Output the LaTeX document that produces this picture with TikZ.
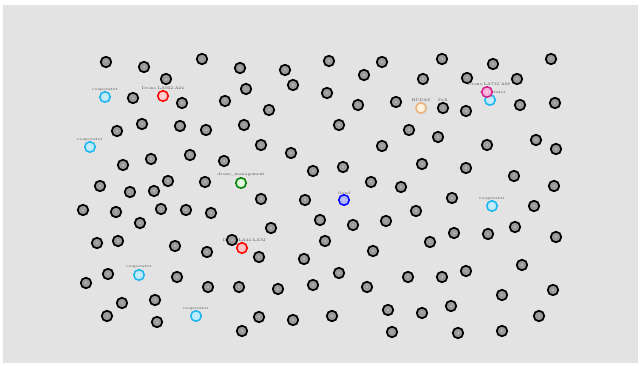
\documentclass[tikz,border=0pt]{standalone}
\begin{document}
\begin{tikzpicture}[x=1pt,y=-1pt,
  dn/.style={circle,draw=black,line width=1.7pt,fill=gray!80,minimum size=10.5pt,inner sep=0pt,
    font=\fontsize{3.5}{4}\selectfont,text=gray!20},
  cn/.style={circle,line width=1.5pt,minimum size=10.5pt,inner sep=0pt,font=\fontsize{3.5}{4}\selectfont,text=white},
  lb/.style={font=\fontsize{4}{4.5}\selectfont,text=gray!60!black,inner sep=0pt}]
\useasboundingbox (0,0) rectangle (641,366);
\fill[white] (0,0) rectangle (641,366);
\fill[black!11] (3,5) rectangle (638,363);
% black nodes
\foreach \x/\y [count=\i] in {
106/62,144/67,202/59,240/68,285/70,329/61,364/75,382/62,442/59,493/64,551/59,
166/79,246/89,293/85,327/93,423/79,467/78,517/79,
133/98,182/103,225/101,269/110,358/105,396/102,443/108,466/111,520/105,555/103,
117/131,142/124,180/126,206/130,244/125,339/125,409/130,438/137,
536/140,556/149,487/145,
151/159,190/155,224/161,261/145,291/153,382/146,
123/165,313/171,343/167,422/164,466/168,514/176,
100/186,130/192,154/191,168/181,205/182,371/182,401/187,554/186,
83/210,116/212,140/223,161/209,186/210,211/213,261/199,305/200,452/198,416/211,534/206,
320/220,353/225,386/221,271/228,
97/243,118/241,175/246,207/252,325/241,373/251,430/242,454/233,488/234,515/227,556/237,
108/274,177/277,259/257,304/259,339/273,408/277,442/277,466/271,522/265,
86/283,208/287,239/287,278/289,313/285,367/287,
122/303,155/300,502/295,553/290,
107/316,157/322,259/317,293/320,332/316,388/310,422/313,451/306,539/316,
242/331,392/332,458/333,502/331}
  {\pgfmathtruncatemacro{\d}{mod(\i*7,10)}
   \node[dn] (n\i) at (\x,\y) {\d};}
% labels of coloured nodes
\node[lb] (l1) at (105,90) {cooperator};
\node[lb] (l2) at (163,88.5) {Drone.LA952.A24};
\node[lb] (l3) at (421,100) {HUDAS};
\node[lb] (l4) at (443,100.5) {Dell};
\node[lb] (l5) at (489,84.5) {Drone.LA712.A68};
\node[lb] (l6) at (493,92.5) {cooperator};
\node[lb] (l7) at (90,140) {cooperator};
\node[lb] (l8) at (241,175) {drone\_management};
\node[lb] (l9) at (344,193) {cloud};
\node[lb] (l10) at (492,198.5) {cooperator};
\node[lb] (l11) at (244,240) {Drone.LA44.LA32};
\node[dn] (m1) at (232,240) {3};
\node[lb] (l12) at (139,267) {cooperator};
\node[lb] (l13) at (196,309) {cooperator};
% coloured nodes
\node[cn,draw=cyan!90!white,fill=cyan!25] (c1) at (105,97) {2};
\node[cn,draw=red,fill=red!20] (c2) at (163,96) {6};
\node[cn,draw=orange!45!brown!60,fill=orange!12] (c3) at (421,108) {1};
\node[cn,draw=cyan!90!white,fill=cyan!25] (c4) at (490,100) {4};
\node[cn,draw=magenta!85!black,fill=magenta!30] (c5) at (487,92) {8};
\node[cn,draw=cyan!90!white,fill=cyan!25] (c6) at (90,147) {5};
\node[cn,draw=green!50!black,fill=green!15] (c7) at (241,183) {2};
\node[cn,draw=blue,fill=blue!30] (c8) at (344,200) {0};
\node[cn,draw=cyan!90!white,fill=cyan!25] (c9) at (492,206) {3};
\node[cn,draw=red,fill=red!25] (c10) at (242,248) {9};
\node[cn,draw=cyan!90!white,fill=cyan!25] (c11) at (139,275) {7};
\node[cn,draw=cyan!90!white,fill=cyan!25] (c12) at (196,316) {1};
\end{tikzpicture}
\end{document}
